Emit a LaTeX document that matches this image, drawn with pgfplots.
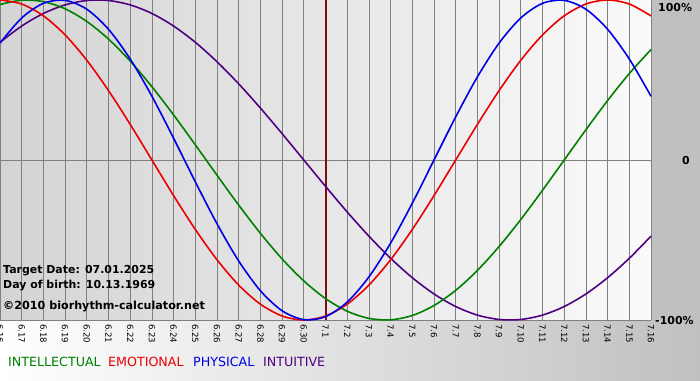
\documentclass[border=0pt]{standalone}
\usepackage{pgfplots}
\pgfplotsset{compat=1.18}
\usepackage{fontspec}
\setmainfont{DejaVu Sans}
\definecolor{cInt}{RGB}{0,128,0}
\definecolor{cEmo}{RGB}{235,0,0}
\definecolor{cPhy}{RGB}{0,0,230}
\definecolor{cItu}{RGB}{80,0,130}
\definecolor{cMark}{RGB}{128,16,16}
\definecolor{cGrid}{RGB}{128,128,128}
\definecolor{cSide}{RGB}{192,192,192}
\definecolor{cPL}{RGB}{212,212,212}
\definecolor{cPR}{RGB}{250,250,250}
\begin{document}
\begin{tikzpicture}[x=1bp,y=1bp]
\useasboundingbox (0,-60) rectangle (700,320);
\fill[cSide] (0,-60) rectangle (700,320);
\shade[left color=white, right color=cSide] (0,-60) rectangle (700,0);
\shade[left color=cPL, right color=cPR] (0,0) rectangle (651,320);
\begin{axis}[
  at={(0,0)}, anchor=south west,
  scale only axis, width=651bp, height=320bp,
  xmin=0, xmax=30, ymin=-1, ymax=1,
  axis line style={draw=none}, clip=false,
  xtick={0,...,30},
  xticklabels={6.16,6.17,6.18,6.19,6.20,6.21,6.22,6.23,6.24,6.25,6.26,6.27,6.28,6.29,6.30,7.1,7.2,7.3,7.4,7.5,7.6,7.7,7.8,7.9,7.10,7.11,7.12,7.13,7.14,7.15,7.16},
  xticklabel style={rotate=-90, anchor=west, font=\fontsize{8.6}{9}\selectfont, inner sep=0bp, xshift=4bp},
  major tick length=0pt,
  ytick=\empty,
  every axis plot/.append style={line width=1.6bp, smooth, mark=none},
]
% grid
\pgfplotsinvokeforeach{0,...,30}{\draw[cGrid, line width=0.8bp] (axis cs:#1,-1) -- (axis cs:#1,1);}
\draw[cGrid, line width=0.8bp] (axis cs:0,0) -- (axis cs:30,0);
\draw[cGrid, line width=0.8bp] (axis cs:0,-1) -- (axis cs:30,-1);
\addplot[cMark, line width=2bp, smooth=false] coordinates {(15,-1) (15,1)};
% intuitive
\addplot[cItu] coordinates {
(0,0.7357)(1,0.8372)(2,0.9158)(3,0.9694)(4,0.9966)(5,0.9966)(6,0.9694)(7,0.9158)(8,0.8372)(9,0.7357)
(10,0.6142)(11,0.4759)(12,0.3247)(13,0.1646)(14,0)(15,-0.1646)(16,-0.3247)(17,-0.4759)(18,-0.6142)(19,-0.7357)
(20,-0.8372)(21,-0.9158)(22,-0.9694)(23,-0.9966)(24,-0.9966)(25,-0.9694)(26,-0.9158)(27,-0.8372)(28,-0.7357)(29,-0.6142)(30,-0.4759)};
% intellectual
\addplot[cInt] coordinates {
(0,0.9718)(1,0.9989)(2,0.9898)(3,0.9450)(4,0.8660)(5,0.7557)(6,0.6182)(7,0.4582)(8,0.2817)(9,0.0951)
(10,-0.0951)(11,-0.2817)(12,-0.4582)(13,-0.6182)(14,-0.7557)(15,-0.8660)(16,-0.9450)(17,-0.9898)(18,-0.9989)(19,-0.9718)
(20,-0.9096)(21,-0.8146)(22,-0.6901)(23,-0.5406)(24,-0.3717)(25,-0.1893)(26,0)(27,0.1893)(28,0.3717)(29,0.5406)(30,0.6901)};
% emotional
\addplot[cEmo] coordinates {
(0,1)(1,0.9749)(2,0.9010)(3,0.7818)(4,0.6235)(5,0.4339)(6,0.2225)(7,0)(8,-0.2225)(9,-0.4339)
(10,-0.6235)(11,-0.7818)(12,-0.9010)(13,-0.9749)(14,-1)(15,-0.9749)(16,-0.9010)(17,-0.7818)(18,-0.6235)(19,-0.4339)
(20,-0.2225)(21,0)(22,0.2225)(23,0.4339)(24,0.6235)(25,0.7818)(26,0.9010)(27,0.9749)(28,1)(29,0.9749)(30,0.9010)};
% physical
\addplot[cPhy] coordinates {
(0,0.7308)(1,0.8879)(2,0.9791)(3,0.9977)(4,0.9423)(5,0.8170)(6,0.6311)(7,0.3984)(8,0.1362)(9,-0.1362)
(10,-0.3984)(11,-0.6311)(12,-0.8170)(13,-0.9423)(14,-0.9977)(15,-0.9791)(16,-0.8879)(17,-0.7308)(18,-0.5196)(19,-0.2698)
(20,0)(21,0.2698)(22,0.5196)(23,0.7308)(24,0.8879)(25,0.9791)(26,0.9977)(27,0.9423)(28,0.8170)(29,0.6311)(30,0.3984)};
\end{axis}
% y labels
\node[anchor=north west, inner sep=0, font=\bfseries\fontsize{11}{12}\selectfont] at (658,317) {100\%};
\node[anchor=center, inner sep=0, font=\bfseries\fontsize{11}{12}\selectfont] at (686,159) {0};
\node[anchor=west, inner sep=0, font=\bfseries\fontsize{11}{12}\selectfont] at (655,-1) {-100\%};
% info text
\node[anchor=west, inner sep=0, font=\bfseries\fontsize{11}{12}\selectfont] at (3,49) {Target Date: 07.01.2025};
\node[anchor=west, inner sep=0, font=\bfseries\fontsize{11}{12}\selectfont] at (3,34) {Day of birth: 10.13.1969};
\node[anchor=west, inner sep=0, font=\bfseries\fontsize{11.2}{12}\selectfont] at (3,14) {©2010 biorhythm-calculator.net};
% legend
\begin{scope}[every node/.style={anchor=west, inner sep=0, font=\fontsize{12.7}{13}\selectfont}]
\node[text=cInt] at (8,-42) {INTELLECTUAL};
\node[text=cEmo] at (108,-42) {EMOTIONAL};
\node[text=cPhy] at (193,-42) {PHYSICAL};
\node[text=cItu] at (263,-42) {INTUITIVE};
\end{scope}
\end{tikzpicture}
\end{document}
